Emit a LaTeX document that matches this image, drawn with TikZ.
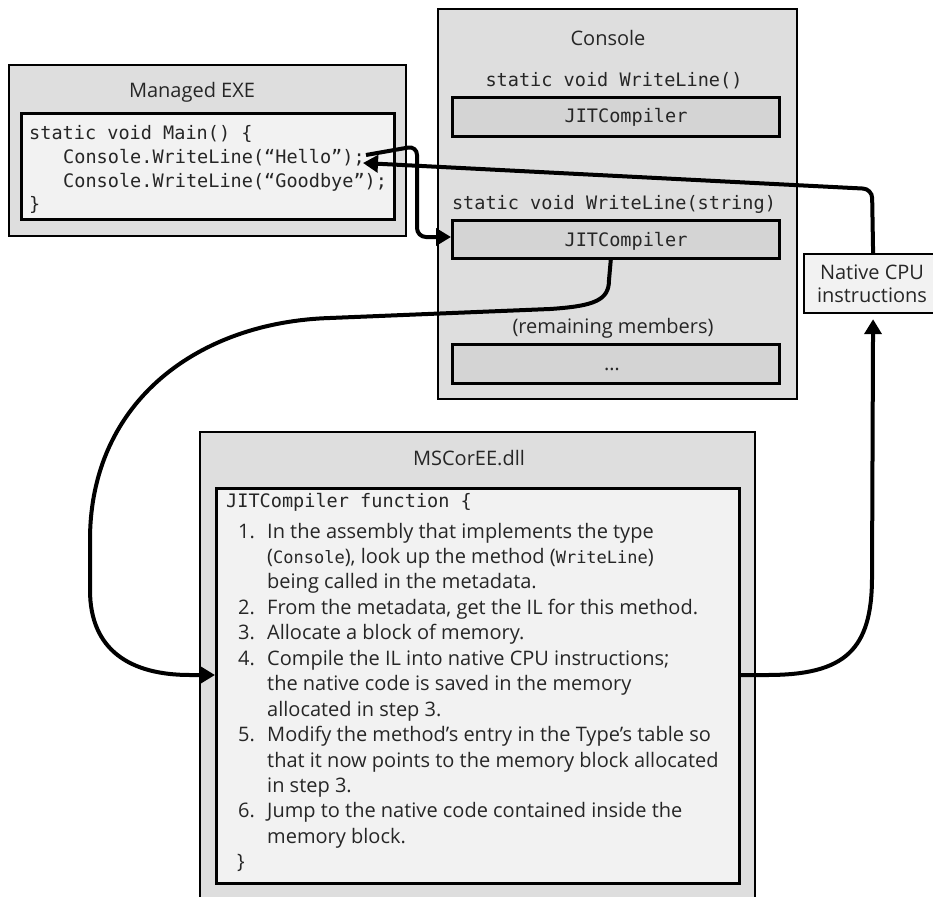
\documentclass[tikz,border=0pt]{standalone}
\usepackage{fontspec}
\setmainfont{Open Sans}
\setmonofont{DejaVu Sans Mono}
\usetikzlibrary{arrows.meta}
\definecolor{outerfill}{HTML}{DEDEDE}
\definecolor{innerfill}{HTML}{F2F2F2}
\definecolor{jitfill}{HTML}{D4D4D4}
\definecolor{txt}{HTML}{262626}
\newcommand{\smallmono}[1]{{\fontsize{17}{20}\selectfont\ttfamily #1}}
\begin{document}
\begin{tikzpicture}[x=1pt,y=-1pt,
  outerbox/.style={draw=black, line width=2pt, fill=outerfill, inner sep=0pt, anchor=north west},
  innerbox/.style={draw=black, line width=2.8pt, fill=innerfill, inner sep=0pt, anchor=north west},
  jitbox/.style={draw=black, line width=2.6pt, fill=jitfill, inner sep=0pt, anchor=north west},
  sans/.style={font=\fontsize{20}{25}\selectfont, text=txt, inner sep=0pt},
  mono/.style={font=\fontsize{18.55}{23}\selectfont\ttfamily, text=txt, inner sep=0pt},
  lline/.style={sans, anchor=base west},
  conn/.style={line width=4pt, draw=black, rounded corners=9pt, -{Triangle[length=15pt,width=17pt]}}
]
\useasboundingbox (0,0) rectangle (933,896);

% ---------- Managed EXE ----------
\node[outerbox, minimum width=397pt, minimum height=171pt] (exe) at (8,64) {};
\node[innerbox, minimum width=373pt, minimum height=106pt] (exein) at (20,112) {};
\node[sans, anchor=base] (exetitle) at (192,98) {Managed EXE};
\node[mono, anchor=base west] (c1) at (29,140) {static void Main() \{};
\node[mono, anchor=base west] (c2) at (63,163.5) {Console.WriteLine(“Hello”);};
\node[mono, anchor=base west] (c3) at (63,187) {Console.WriteLine(“Goodbye”);};
\node[mono, anchor=base west] (c4) at (29,210) {\}};

% ---------- Console ----------
\node[outerbox, minimum width=359pt, minimum height=390pt] (con) at (437,8) {};
\node[sans, anchor=base] (contitle) at (608,46) {Console};
\node[mono, anchor=base] (wl0) at (614,87) {static void WriteLine()};
\node[jitbox, minimum width=327pt, minimum height=39pt] (jit1) at (451,96) {};
\node[mono, anchor=base] (jit1t) at (626,123) {JITCompiler};
\node[mono, anchor=base] (wl1) at (614,209) {static void WriteLine(string)};
\node[jitbox, minimum width=327pt, minimum height=38pt] (jit2) at (451,219) {};
\node[mono, anchor=base] (jit2t) at (626,246) {JITCompiler};
\node[sans, anchor=base] (rem) at (613,333) {(remaining members)};
\node[jitbox, minimum width=327pt, minimum height=39pt] (dots) at (451,343) {};
\node[sans, anchor=base] (dotst) at (612,370) {…};

% ---------- Native CPU ----------
\node[innerbox, line width=2.2pt, minimum width=138pt, minimum height=59pt] (native) at (803,253) {};
\node[sans, anchor=base] (nat1) at (872,279) {Native CPU};
\node[sans, anchor=base] (nat2) at (872,302) {instructions};

% ---------- MSCorEE.dll ----------
\node[outerbox, line width=2.4pt, minimum width=555pt, minimum height=480pt] (ms) at (199,431) {};
\node[innerbox, minimum width=523pt, minimum height=395pt] (msin) at (215,487) {};
\node[sans, anchor=base] (mstitle) at (469,465) {MSCorEE.dll};
\node[mono, anchor=base west] (jf) at (226,507) {JITCompiler function \{};

\node[lline] (n1) at (238,538) {1.};
\node[lline] (t1a) at (267,538) {In the assembly that implements the type};
\node[lline] (t1b) at (267,563.45) {(\smallmono{Console}), look up the method (\smallmono{WriteLine})};
\node[lline] (t1c) at (267,588.9) {being called in the metadata.};
\node[lline] (n2) at (238,614.35) {2.};
\node[lline] (t2a) at (267,614.35) {From the metadata, get the IL for this method.};
\node[lline] (n3) at (238,639.8) {3.};
\node[lline] (t3a) at (267,639.8) {Allocate a block of memory.};
\node[lline] (n4) at (238,665.25) {4.};
\node[lline] (t4a) at (267,665.25) {Compile the IL into native CPU instructions;};
\node[lline] (t4b) at (267,690.7) {the native code is saved in the memory};
\node[lline] (t4c) at (267,716.15) {allocated in step 3.};
\node[lline] (n5) at (238,741.6) {5.};
\node[lline] (t5a) at (267,741.6) {Modify the method’s entry in the Type’s table so};
\node[lline] (t5b) at (267,767.05) {that it now points to the memory block allocated};
\node[lline] (t5c) at (267,792.5) {in step 3.};
\node[lline] (n6) at (238,817.95) {6.};
\node[lline] (t6a) at (267,817.95) {Jump to the native code contained inside the};
\node[lline] (t6b) at (267,843.4) {memory block.};
\node[lline] (cb) at (237,868.85) {\}};

% ---------- connectors ----------
\coordinate (hellocall) at (366,155);
\coordinate (helloret) at (363,163);
\draw[conn] (hellocall) -- (417,146) -- (417,237) -- (jit2.west |- 0,237);
\draw[conn] (native.north) -- (872,189) -- (helloret);
\draw[conn, rounded corners=0pt] (jit2.south) ++(-5,0) -- (609,280)
  .. controls (609,300) and (595,306) .. (550,309) -- (330,318)
  .. controls (200,322) and (90,400) .. (90,540) -- (90,590)
  .. controls (90,650) and (130,675) .. (190,675) -- (msin.west |- 0,675);
\draw[conn, rounded corners=0pt, shorten >=5pt] (msin.east |- 0,675) -- (767,675)
  .. controls (845,675) and (872,650) .. (872,577) -- (native.south);
\end{tikzpicture}
\end{document}
